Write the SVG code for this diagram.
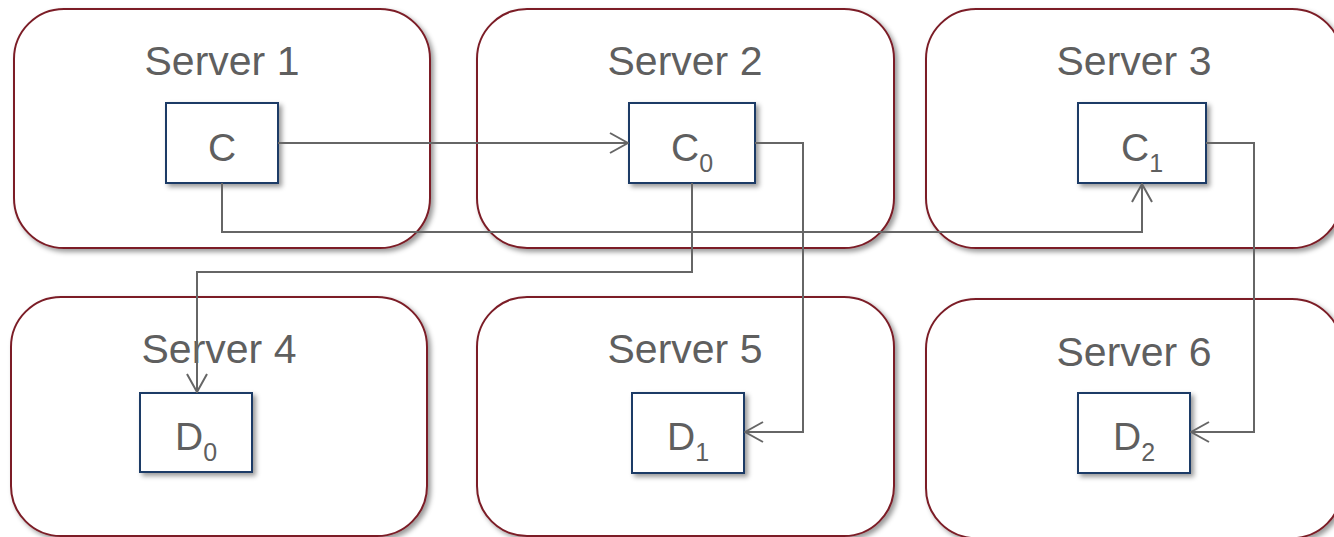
<svg xmlns="http://www.w3.org/2000/svg" width="1334" height="537" viewBox="0 0 1334 537">
<defs>
<filter id="sh" x="-10%" y="-10%" width="130%" height="130%">
<feDropShadow dx="3" dy="3" stdDeviation="2.5" flood-color="#000" flood-opacity="0.4"/>
</filter>
<marker id="arr" viewBox="0 0 20 22" refX="19" refY="11" markerWidth="20" markerHeight="22" markerUnits="userSpaceOnUse" orient="auto">
<path d="M1,1 L19,11 L1,21" fill="none" stroke="#666" stroke-width="2"/>
</marker>
</defs>
<style>
.srv{fill:#fff;stroke:#7b1f28;stroke-width:2;filter:url(#sh)}
.box{fill:#fff;stroke:#1f3b66;stroke-width:2;filter:url(#sh)}
.lbl{font-family:"Liberation Sans",Arial,sans-serif;font-size:41px;fill:#5f5f5f;text-anchor:middle}
.in{font-family:"Liberation Sans",Arial,sans-serif;font-size:39px;fill:#5f5f5f;text-anchor:middle}
.sub{font-size:25px}
.con{fill:none;stroke:#666;stroke-width:2}
</style>
<g id="server1"><rect class="srv" x="14" y="9" width="416" height="239" rx="50"/><text class="lbl" x="222" y="75">Server 1</text></g>
<g id="server2"><rect class="srv" x="477" y="9" width="417" height="239" rx="50"/><text class="lbl" x="685" y="75">Server 2</text></g>
<g id="server3"><rect class="srv" x="926" y="9" width="416" height="239" rx="50"/><text class="lbl" x="1134" y="75">Server 3</text></g>
<g id="server4"><rect class="srv" x="11" y="297" width="416" height="239" rx="50"/><text class="lbl" x="219" y="363">Server 4</text></g>
<g id="server5"><rect class="srv" x="477" y="297" width="417" height="239" rx="50"/><text class="lbl" x="685" y="363">Server 5</text></g>
<g id="server6"><rect class="srv" x="926" y="299" width="416" height="239" rx="50"/><text class="lbl" x="1134" y="366">Server 6</text></g>
<g id="C"><rect class="box" x="166" y="103" width="112" height="80"/><text class="in" x="222" y="161">C</text></g>
<g id="C0"><rect class="box" x="629" y="103" width="126" height="80"/><text class="in" x="692" y="161">C<tspan class="sub" dy="11">0</tspan></text></g>
<g id="C1"><rect class="box" x="1078" y="103" width="128" height="80"/><text class="in" x="1142" y="161">C<tspan class="sub" dy="11">1</tspan></text></g>
<g id="D0"><rect class="box" x="140" y="393" width="112" height="79"/><text class="in" x="196" y="450">D<tspan class="sub" dy="11">0</tspan></text></g>
<g id="D1"><rect class="box" x="632" y="393" width="112" height="80"/><text class="in" x="688" y="450">D<tspan class="sub" dy="11">1</tspan></text></g>
<g id="D2"><rect class="box" x="1078" y="393" width="112" height="80"/><text class="in" x="1134" y="450">D<tspan class="sub" dy="11">2</tspan></text></g>
<g id="connectors">
<path class="con" d="M278,143 H628" marker-end="url(#arr)"/>
<path class="con" d="M222,183 V232 H1142 V184" marker-end="url(#arr)"/>
<path class="con" d="M692,183 V272 H197 V392" marker-end="url(#arr)"/>
<path class="con" d="M755,143 H803 V432 H745" marker-end="url(#arr)"/>
<path class="con" d="M1206,143 H1254 V432 H1191" marker-end="url(#arr)"/>
</g>
</svg>
